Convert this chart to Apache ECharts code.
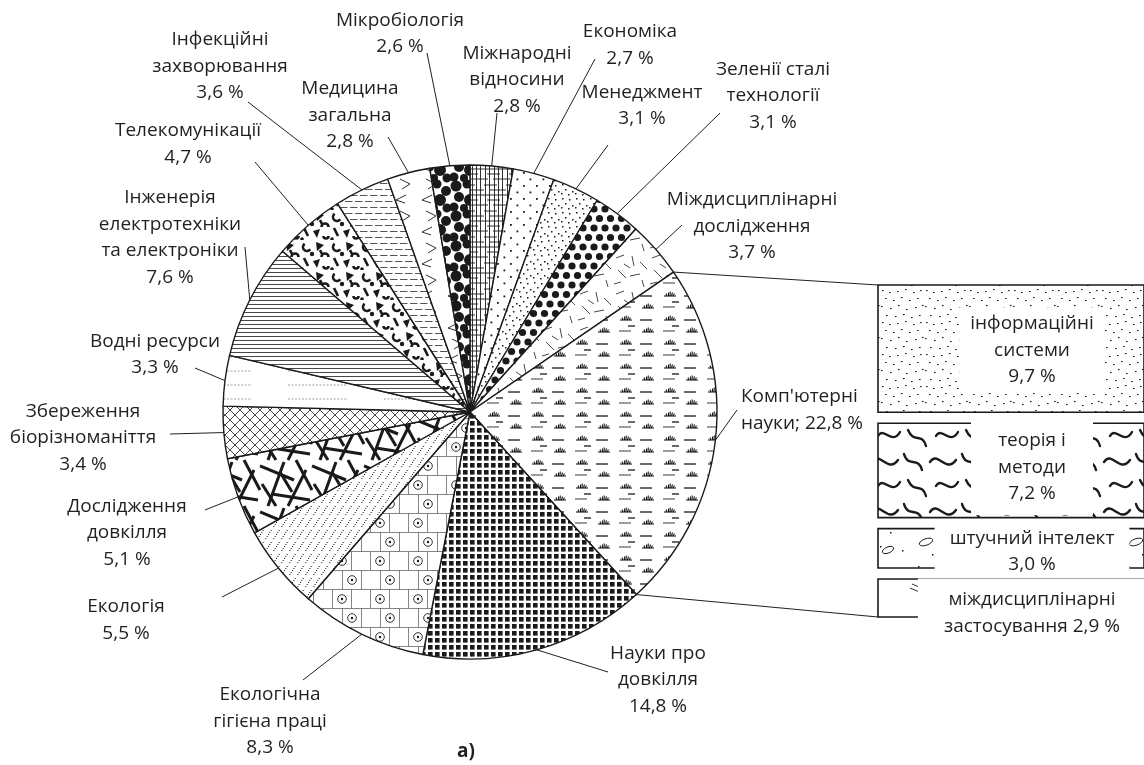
<!DOCTYPE html>
<html><head><meta charset="utf-8">
<script src="https://cdn.jsdelivr.net/npm/echarts@6/dist/echarts.min.js"></script>
<style>html,body{margin:0;padding:0;background:#fff}#c{width:1144px;height:765px}</style>
</head><body><div id="c"></div>
<script>
// ---------- data ----------
const categories = ['Міжнародні відносини','Економіка','Менеджмент','Зеленії сталі технології','Міждисциплінарні дослідження',"Комп'ютерні науки",'Науки про довкілля','Екологічна гігієна праці','Екологія','Дослідження довкілля','Збереження біорізноманіття','Водні ресурси','Інженерія електротехніки та електроніки','Телекомунікації','Інфекційні захворювання','Медицина загальна','Мікробіологія'];
const labelNames = ['Міжнародні\nвідносини','Економіка','Менеджмент','Зеленії сталі\nтехнології','Міждисциплінарні\nдослідження',"Комп'ютерні\nнауки",'Науки про\nдовкілля','Екологічна\nгігієна праці','Екологія','Дослідження\nдовкілля','Збереження\nбіорізноманіття','Водні ресурси','Інженерія\nелектротехніки\nта електроніки','Телекомунікації','Інфекційні\nзахворювання','Медицина\nзагальна','Мікробіологія'];
const values = [2.8, 2.7, 3.1, 3.1, 3.7, 22.8, 14.8, 8.3, 5.5, 5.1, 3.4, 3.3, 7.6, 4.7, 3.6, 2.8, 2.6];
const subCategories = ['інформаційні\nсистеми','теорія і\nметоди','штучний інтелект','міждисциплінарні\nзастосування'];
const subValues = [9.7, 7.2, 3.0, 2.9];
const caption = 'а)';

// ---------- layout / style ----------
const INK = '#1a1a1a', TXT = '#231f20';
const FONT = '"Open Sans", "Noto Sans", sans-serif';
const CX = 470, CY = 412, R = 247;
const labelPos = [[517,80],[630,45],[642,105.5],[773,96],[752,226.5],[741,410,'left'],[658,680],[270,721.5],[126,620],[127,533],[83,438],[155,354.5],[170,237.5],[188,144],[220,66.5],[350,115.5],[400,33.5]];
const lineEnds = [[497,113],[595,59],[608,145],[720,113],[682,225],[737,410],[608,672],[303,680],[222,597],[205,510],[170,434],[195,368],[245,247],[255,162],[248,102],[388,137],[427,53]];
const GAP = 11;
const boxText = [{dy:1.5,pad:[3,11,3,11]},{dy:-3,pad:[8,27,8,27]},{dy:3.5,pad:[3,15,3,15]},{dy:15,pad:[8,26,8,26]}];

function fmt(v){ return v.toFixed(1).replace('.', ',') + ' %'; }

function pat(w, h, draw) {
  const c = document.createElement('canvas');
  c.width = w; c.height = h;
  const g = c.getContext('2d');
  g.fillStyle = '#fff'; g.fillRect(0, 0, w, h);
  g.strokeStyle = INK; g.fillStyle = INK; g.lineWidth = 1;
  draw(g, w, h);
  return { image: c, repeat: 'repeat' };
}
function wrap(w, h, fn){ for (const dx of [-w,0,w]) for (const dy of [-h,0,h]) fn(dx, dy); }
function seg(g,x1,y1,x2,y2){ g.beginPath(); g.moveTo(x1,y1); g.lineTo(x2,y2); g.stroke(); }
function dot(g,x,y,r){ g.beginPath(); g.arc(x,y,r,0,Math.PI*2); g.fill(); }
function tuft(g,x,y){ g.lineWidth=1.1; seg(g,x,y,x+12,y); seg(g,x+3,y,x+2,y-2.5); seg(g,x+4.5,y,x+4.5,y-3.5); seg(g,x+6,y,x+6.3,y-4.5); seg(g,x+7.5,y,x+8.5,y-3.5); seg(g,x+9,y,x+10.5,y-2.5); }

const patterns = [
  // Міжнародні відносини - plaid lines
  pat(22,26,(g)=>{ g.lineWidth=0.9; [1.5,5.5,10.5,14.5,18.5].forEach(x=>seg(g,x,0,x,26));
     [[3,0,13],[8,6,22],[13,0,22],[18,3,16],[23,9,22],[23,0,4]].forEach(([y,a,b])=>seg(g,a,y,b,y)); }),
  // Економіка - sparse dots
  pat(13,13,(g)=>{ g.fillRect(3,3,1.8,1.8); g.fillRect(9.5,9.5,1.8,1.8); }),
  // Менеджмент - fine dots
  pat(14,14,(g)=>{ [[2,2],[9,3],[5,7],[12,9],[1,11],[8,12]].forEach(([x,y])=>g.fillRect(x,y,1.5,1.5)); }),
  // Зелені - black dots
  pat(11,19,(g,w,h)=>{ wrap(w,h,(dx,dy)=>{ dot(g,dx,dy,3.6); dot(g,5.5+dx,9.5+dy,3.6); }); }),
  // Міждисциплінарні дослідження - random dashes
  pat(36,36,(g)=>{ g.lineWidth=0.8; [[4,6,12,3],[20,4,22,14],[28,10,35,17],[6,18,14,26],[18,24,28,22],[30,28,32,35],[2,32,9,30],[12,12,18,16]].forEach(s=>seg(g,...s)); }),
  // Комп'ютерні науки - tufts and dashes
  pat(44,24,(g)=>{ tuft(g,4,8); tuft(g,26,20); g.lineWidth=1.3; seg(g,24,8,36,8); g.strokeStyle='#666'; seg(g,3,19,15,19); g.strokeStyle=INK; seg(g,12,14,19,14); }),
  // Науки про довкілля - black squares
  pat(7,7,(g)=>{ g.fillRect(1,1,4.6,4.6); }),
  // Екологічна гігієна праці - bricks with circles
  pat(38,38,(g,w,h)=>{ g.strokeStyle='#666'; g.lineWidth=0.8; seg(g,0,0.5,38,0.5); seg(g,0,19.5,38,19.5);
     seg(g,0.5,0,0.5,19.5); seg(g,19.5,0,19.5,19.5); seg(g,9.5,19.5,9.5,38); seg(g,28.5,19.5,28.5,38);
     g.strokeStyle=INK; g.lineWidth=0.9;
     const circ=(x,y)=>{ g.beginPath(); g.arc(x,y,4.3,0,Math.PI*2); g.stroke(); dot(g,x,y,1.2); };
     circ(10,10); circ(0,29); circ(38,29); }),
  // Екологія - slanted dotted lines
  pat(8,12,(g)=>{ for(let k=0;k<6;k++){ g.fillRect(8-k*8/6, k*2, 1, 1); } }),
  // Дослідження довкілля - thick sticks
  pat(52,46,(g,w,h)=>{ g.lineWidth=3; const ss=[[0,6,34,20],[8,46,24,2],[28,46,46,10],[36,0,52,30],[12,34,50,40],[2,24,16,46],[20,12,32,32]];
     wrap(w,h,(dx,dy)=>ss.forEach(s=>seg(g,s[0]+dx,s[1]+dy,s[2]+dx,s[3]+dy))); }),
  // Збереження - crosshatch
  pat(10,10,(g)=>{ g.lineWidth=0.8; seg(g,0,0,10,10); seg(g,10,0,0,10); }),
  // Водні ресурси - sparse dashed
  pat(96,14,(g)=>{ g.strokeStyle='#888'; g.lineWidth=0.8; g.setLineDash([2,1.5]); seg(g,0,7,60,7); }),
  // Інженерія - horizontal lines
  pat(4,4,(g)=>{ g.strokeStyle='#333'; g.lineWidth=0.9; seg(g,0,0.5,4,0.5); }),
  // Телекомунікації - black blobs
  pat(30,30,(g)=>{ g.lineWidth=2.6;
     g.beginPath(); g.arc(7,7,4,0.2*Math.PI,1.3*Math.PI); g.stroke();
     g.beginPath(); g.moveTo(16,2); g.lineTo(24,5); g.lineTo(17,11); g.closePath(); g.fill();
     g.beginPath(); g.arc(25,17,3.5,Math.PI,2*Math.PI); g.stroke();
     seg(g,4,18,8,26);
     g.beginPath(); g.moveTo(13,21); g.lineTo(20,19); g.lineTo(17,28); g.closePath(); g.fill();
     g.beginPath(); g.arc(26,26,2.5,0,Math.PI); g.stroke();
     dot(g,12,14,2.2); seg(g,20,10,22,14); dot(g,2,29,1.8); }),
  // Інфекційні - dashed lines
  pat(10,12,(g)=>{ g.strokeStyle='#444'; g.lineWidth=0.9; seg(g,0,3.5,7.5,3.5); seg(g,5,9.5,10,9.5); seg(g,0,9.5,2.5,9.5); }),
  // Медицина - chevrons
  pat(26,32,(g)=>{ g.lineWidth=0.9; g.beginPath(); g.moveTo(16,3); g.lineTo(6,8); g.lineTo(15,11); g.stroke();
     g.beginPath(); g.moveTo(10,19); g.lineTo(20,24); g.lineTo(12,29); g.stroke(); }),
  // Мікробіологія - big black circles
  pat(30,30,(g,w,h)=>{ const cs=[[6,6,5.5],[17,4,4.5],[26,11,5],[9,17,5],[20,20,6],[4,27,4.5],[14,28,4],[27,28,4.5]];
     wrap(w,h,(dx,dy)=>cs.forEach(c=>dot(g,c[0]+dx,c[1]+dy,c[2]))); })
];

const boxPatterns = [
  pat(44,32,(g)=>{ [[2,2],[9,4],[17,3],[25,1],[33,4],[40,2],[5,10],[13,12],[21,9],[29,12],[37,10],[1,18],[10,20],[18,17],[26,21],[35,19],[42,17],[6,27],[15,28],[23,26],[31,29],[39,27]].forEach(([x,y])=>g.fillRect(x,y,1.6,1.1)); }),
  pat(58,50,(g,w,h)=>{ g.lineWidth=2.4; g.lineCap='round';
     const cs=[[2,12,10,0,18,24,28,10],[34,4,38,18,48,6,52,20],[8,36,14,26,22,46,30,32],[38,30,44,44,52,32,56,46]];
     wrap(w,h,(dx,dy)=>cs.forEach(a=>{ g.beginPath(); g.moveTo(a[0]+dx,a[1]+dy); g.bezierCurveTo(a[2]+dx,a[3]+dy,a[4]+dx,a[5]+dy,a[6]+dx,a[7]+dy); g.stroke(); })); }),
  pat(70,40,(g)=>{ [[8,6],[30,4],[50,12],[62,30],[22,34],[40,26]].forEach(([x,y])=>g.fillRect(x,y,1.5,1.5));
     g.lineWidth=1; g.beginPath(); g.ellipse(16,22,7,3.2,-0.35,0,Math.PI*2); g.stroke();
     g.beginPath(); g.ellipse(48,30,6,3,-0.4,0,Math.PI*2); g.stroke(); }),
  pat(150,38,(g)=>{ g.lineWidth=0.9; seg(g,10,18,22,23); seg(g,12,14,24,19); })
];

// ---------- chart ----------
const chart = echarts.init(document.getElementById('c'), null, { renderer: 'canvas', devicePixelRatio: 1 });
const total = values.reduce((a,b)=>a+b,0);
const mids = []; { let acc = 0; values.forEach(v=>{ mids.push(90 - (acc + v/2)/total*360); acc += v; }); }
function edge(deg){ const a = deg*Math.PI/180; return [CX + R*Math.cos(a), CY - R*Math.sin(a)]; }

const subTotal = subValues.reduce((a,b)=>a+b,0);
const subData = []; { let acc = 0; subValues.forEach(v=>{ subData.push([acc, acc+v]); acc += v; }); }

chart.setOption({
  animation: false,
  backgroundColor: '#fff',
  textStyle: { fontFamily: FONT },
  grid: { left: 878, top: 285, width: 290, height: 299 },
  xAxis: { type: 'value', min: 0, max: 1, show: false },
  yAxis: { type: 'value', min: 0, max: subTotal, inverse: true, show: false },
  series: [{
    type: 'pie',
    center: [CX, CY],
    radius: R,
    startAngle: 90,
    clockwise: true,
    avoidLabelOverlap: false,
    emphasis: { disabled: true },
    itemStyle: { borderColor: INK, borderWidth: 1.4 },
    label: {
      show: true, position: 'outside', color: TXT, fontFamily: FONT, fontSize: 19, lineHeight: 26.5,
      formatter: (p) => labelNames[p.dataIndex] + (p.dataIndex === 5 ? '; ' : '\n') + fmt(values[p.dataIndex])
    },
    labelLine: { show: true, length: 5, length2: 5, smooth: false, lineStyle: { color: TXT, width: 1 } },
    labelLayout: function (p) {
      const i = p.dataIndex, L = labelPos[i], e = lineEnds[i];
      return { x: L[0], y: L[1], align: L[2] || 'center', verticalAlign: 'middle',
               labelLinePoints: [edge(mids[i]), e, e] };
    },
    data: categories.map((n, i) => ({ name: n, value: values[i], itemStyle: { color: patterns[i] } }))
  }, {
    type: 'custom',
    coordinateSystem: 'cartesian2d',
    silent: true,
    encode: { x: -1, y: [0, 1] },
    data: subData,
    renderItem: function (params, api) {
      const i = params.dataIndex;
      const p0 = api.coord([0, api.value(0)]);
      const p1 = api.coord([1, api.value(1)]);
      const y0 = p0[1] + i*GAP, y1 = p1[1] + i*GAP;
      const bt = boxText[i];
      return { type: 'group', children: [
        { type: 'rect', shape: { x: p0[0], y: y0, width: p1[0]-p0[0], height: y1-y0 },
          style: { fill: boxPatterns[i], stroke: INK, lineWidth: 1.6 } },
        { type: 'text', style: { text: subCategories[i] + (i === 3 ? ' ' : '\n') + fmt(subValues[i]),
          x: p0[0] + 154, y: (y0+y1)/2 + bt.dy, align: 'center', verticalAlign: 'middle',
          font: '19px ' + FONT, fill: TXT, lineHeight: 26.5, backgroundColor: '#fff', padding: bt.pad } }
      ]};
    }
  }]
});

// connector lines from the split slice to the boxes
(function(){
  let acc = 0; for (let i = 0; i < 5; i++) acc += values[i];
  const a0 = 90 - acc/total*360, a1 = 90 - (acc + values[5])/total*360;
  const top = chart.convertToPixel({ gridIndex: 0 }, [0, 0]);
  const bot = chart.convertToPixel({ gridIndex: 0 }, [0, subTotal]);
  const pA = edge(a0), pB = edge(a1);
  chart.setOption({ graphic: [
    { type: 'line', shape: { x1: pA[0], y1: pA[1], x2: top[0], y2: top[1] }, style: { stroke: TXT, lineWidth: 1 } },
    { type: 'line', shape: { x1: pB[0], y1: pB[1], x2: bot[0], y2: bot[1] + (subValues.length-1)*GAP }, style: { stroke: TXT, lineWidth: 1 } },
    { type: 'text', x: 466, y: 752, style: { text: caption, font: 'bold 19px ' + FONT, fill: TXT, align: 'center', verticalAlign: 'middle' } }
  ]});
})();
</script>
</body></html>
